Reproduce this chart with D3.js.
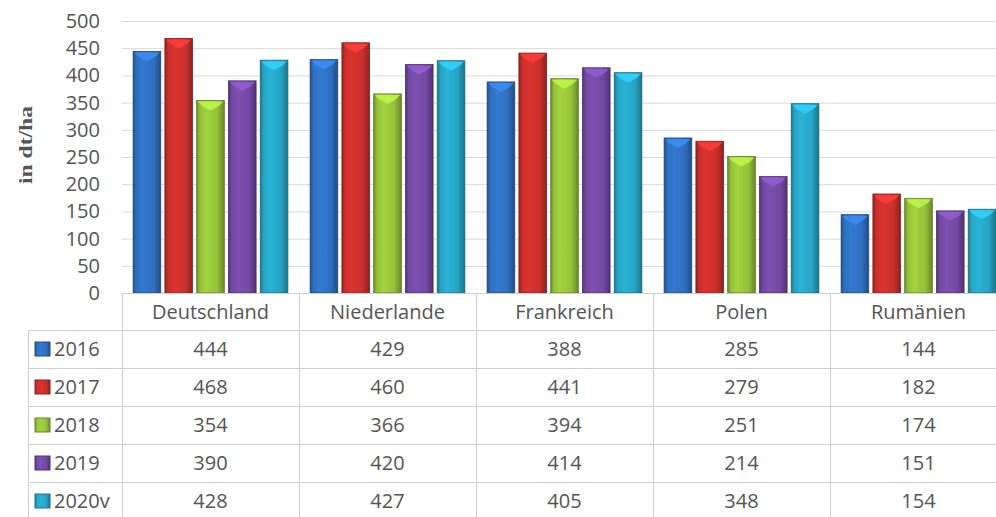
<!DOCTYPE html>
<html>
<head>
<meta charset="utf-8">
<script src="https://cdn.jsdelivr.net/npm/d3@7"></script>
<style>
  body { margin: 0; background: #fff; }
  text { font-family: "Open Sans", sans-serif; fill: #555; }
</style>
</head>
<body>
<script>
// data
var categories = ["Deutschland", "Niederlande", "Frankreich", "Polen", "Rumänien"];
var years = ["2016", "2017", "2018", "2019", "2020v"];
var v2016 = [444, 429, 388, 285, 144];
var v2017 = [468, 460, 441, 279, 182];
var v2018 = [354, 366, 394, 251, 174];
var v2019 = [390, 420, 414, 214, 151];
var v2020 = [428, 427, 405, 348, 154];
var yTicks = [0, 50, 100, 150, 200, 250, 300, 350, 400, 450, 500];
var colors = ["#2f6fbf", "#c9302c", "#95c13a", "#7249a3", "#26a4c4"];

var series = [v2016, v2017, v2018, v2019, v2020];

var W = 996, H = 517;
var plotLeft = 122, plotRight = 1007, plotTop = 21, plotBottom = 293;
var rowH = 38, headerH = 37, legendLeft = 28;

var svg = d3.select("body").append("svg")
    .attr("width", W)
    .attr("height", H);

// scales
var x0 = d3.scaleBand().domain(categories).range([plotLeft, plotRight]);
var x1 = d3.scaleBand().domain(years).range([0, x0.bandwidth()])
    .paddingInner(0.13).paddingOuter(0.35);
var y = d3.scaleLinear().domain([0, 500]).range([plotBottom, plotTop]);

// gradients for the bevelled bars
var defs = svg.append("defs");
colors.forEach(function(c, i) {
  var base = d3.color(c);
  var g = defs.append("linearGradient").attr("id", "g" + i)
      .attr("x1", "0%").attr("x2", "100%").attr("y1", "0%").attr("y2", "0%");
  g.append("stop").attr("offset", "0%").attr("stop-color", base.darker(0.9));
  g.append("stop").attr("offset", "12%").attr("stop-color", base);
  g.append("stop").attr("offset", "35%").attr("stop-color", base.brighter(0.25));
  g.append("stop").attr("offset", "75%").attr("stop-color", base);
  g.append("stop").attr("offset", "100%").attr("stop-color", base.darker(1));
});

// gridlines
svg.append("g").selectAll("line")
  .data(yTicks.slice(1))
  .enter().append("line")
    .attr("x1", plotLeft).attr("x2", W)
    .attr("y1", function(d) { return y(d) + 0.5; })
    .attr("y2", function(d) { return y(d) + 0.5; })
    .attr("stroke", "#d9d9d9").attr("stroke-width", 1);

// y axis labels
var yAxis = svg.append("g")
    .attr("transform", "translate(" + (plotLeft - 12) + ",0)")
    .call(d3.axisLeft(y).tickValues(yTicks).tickSize(0).tickPadding(10));
yAxis.select(".domain").remove();
yAxis.selectAll("text")
    .style("font-family", "'Open Sans', sans-serif")
    .style("font-size", "20px")
    .attr("fill", "#555");

// axis title
svg.append("text")
    .attr("transform", "translate(32,145) rotate(-90)")
    .attr("text-anchor", "middle")
    .attr("textLength", 78)
    .attr("lengthAdjust", "spacingAndGlyphs")
    .style("font-family", "'Liberation Serif', 'DejaVu Serif', serif")
    .style("font-weight", "bold")
    .style("font-size", "19px")
    .style("fill", "#555")
    .text("in dt/ha");

// bars
var groups = svg.append("g").selectAll("g")
  .data(categories)
  .enter().append("g")
    .attr("transform", function(d) { return "translate(" + x0(d) + ",0)"; });

years.forEach(function(yr, si) {
  var bw = x1.bandwidth();
  groups.append("rect")
      .attr("x", x1(yr))
      .attr("y", function(d, ci) { return y(series[si][ci]); })
      .attr("width", bw)
      .attr("height", function(d, ci) { return plotBottom - y(series[si][ci]); })
      .attr("fill", "url(#g" + si + ")")
      .attr("stroke", d3.color(colors[si]).darker(1.2))
      .attr("stroke-width", 0.8);
  // lighter chevron at the top of each bar
  groups.append("path")
      .attr("d", function(d, ci) {
        var t = y(series[si][ci]), xl = x1(yr);
        return "M" + (xl + 1) + "," + (t + 1) + "L" + (xl + bw - 1) + "," + (t + 1) +
               "L" + (xl + bw - 5) + "," + (t + 5) + "L" + (xl + bw / 2) + "," + (t + 10) +
               "L" + (xl + 5) + "," + (t + 5) + "Z";
      })
      .attr("fill", d3.color(colors[si]).brighter(0.7))
      .attr("opacity", 0.85);
});

// data table
var table = svg.append("g");
var gridColor = "#cfcfcf";

// baseline / header top
table.append("line")
    .attr("x1", plotLeft).attr("x2", W).attr("y1", plotBottom + 0.5).attr("y2", plotBottom + 0.5)
    .attr("stroke", gridColor);

// row lines
var rowTops = years.map(function(d, i) { return plotBottom + headerH + i * rowH; });
table.selectAll(".hline")
  .data(rowTops)
  .enter().append("line")
    .attr("x1", legendLeft).attr("x2", W)
    .attr("y1", function(d) { return d + 0.5; })
    .attr("y2", function(d) { return d + 0.5; })
    .attr("stroke", gridColor);

// vertical lines
table.selectAll(".vline")
  .data(categories)
  .enter().append("line")
    .attr("x1", function(d) { return x0(d) + 0.5; })
    .attr("x2", function(d) { return x0(d) + 0.5; })
    .attr("y1", plotBottom).attr("y2", H)
    .attr("stroke", gridColor);
table.append("line")
    .attr("x1", legendLeft + 0.5).attr("x2", legendLeft + 0.5)
    .attr("y1", plotBottom + headerH).attr("y2", H)
    .attr("stroke", gridColor);

// header labels
table.selectAll(".cat")
  .data(categories)
  .enter().append("text")
    .attr("x", function(d) { return x0(d) + x0.bandwidth() / 2; })
    .attr("y", plotBottom + headerH / 2 + 7)
    .attr("text-anchor", "middle")
    .style("font-size", "20px")
    .text(function(d) { return d; });

// legend cells and values
years.forEach(function(yr, si) {
  var top0 = rowTops[si];
  var base = d3.color(colors[si]);
  table.append("rect")
      .attr("x", 35).attr("y", top0 + rowH / 2 - 7)
      .attr("width", 15).attr("height", 14)
      .attr("fill", "url(#g" + si + ")")
      .attr("stroke", base.darker(1));
  table.append("text")
      .attr("x", 54).attr("y", top0 + rowH / 2 + 7)
      .style("font-size", "20px")
      .text(yr);
  table.selectAll(".v" + si)
    .data(categories)
    .enter().append("text")
      .attr("x", function(d) { return x0(d) + x0.bandwidth() / 2; })
      .attr("y", top0 + rowH / 2 + 7)
      .attr("text-anchor", "middle")
      .style("font-size", "20px")
      .text(function(d, ci) { return series[si][ci]; });
});
</script>
</body>
</html>
